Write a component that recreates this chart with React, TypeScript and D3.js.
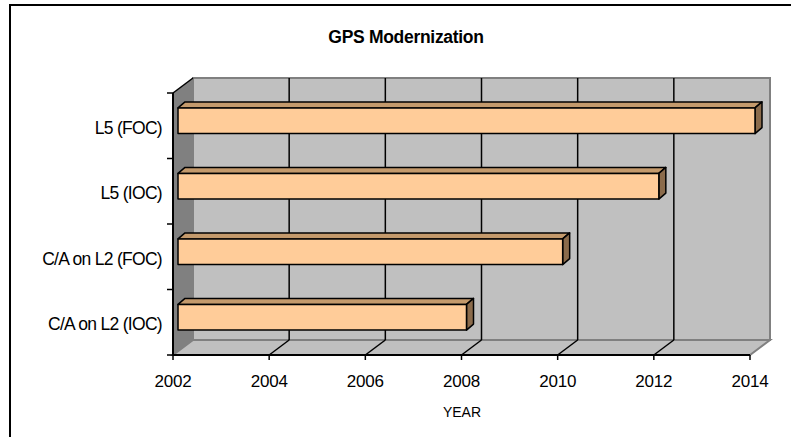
import React from "react";
import * as d3 from "d3";

const categories = ["L5 (FOC)", "L5 (IOC)", "C/A on L2 (FOC)", "C/A on L2 (IOC)"];
const startYear = 2002;
const endYears = [2014, 2012, 2010, 2008];
const xTicks = [2002, 2004, 2006, 2008, 2010, 2012, 2014];
const title = "GPS Modernization";
const xTitle = "YEAR";

export default function App() {
  const W = 791, H = 437;
  const x = d3.scaleLinear().domain([2002, 2014]).range([173, 750]);
  const y = d3.scaleBand<string>().domain(categories).range([93, 355]);
  const DX = 20, DY = -15; // wall depth
  const bw = y.bandwidth() / 2.55;
  const fDX = 5, fDY = -5; // bar front offset
  const bDX = 7, bDY = -6; // bar depth
  const x0 = x.range()[0], x1 = x.range()[1];
  const yTop = y.range()[0], yBot = y.range()[1];
  const font = "'Liberation Sans', Arial, sans-serif";

  return (
    <svg width={W} height={H} style={{ position: "absolute", left: 0, top: 0 }}>
      <rect x={0} y={0} width={W} height={H} fill="#fff" />
      <rect x={10} y={5} width={800} height={450} fill="#fff" stroke="#000" strokeWidth={2} />
      <text x={406} y={43} textAnchor="middle" fontFamily={font} fontWeight="bold" fontSize={17.5} letterSpacing={-0.3}>{title}</text>
      {/* back wall */}
      <rect x={x0 + DX} y={yTop + DY} width={x1 - x0} height={yBot - yTop} fill="#C0C0C0" stroke="#808080" strokeWidth={2} />
      {/* side wall */}
      <polygon points={`${x0},${yTop} ${x0 + DX},${yTop + DY} ${x0 + DX},${yBot + DY} ${x0},${yBot}`} fill="#808080" />
      {/* floor */}
      <polygon points={`${x0},${yBot} ${x0 + DX},${yBot + DY} ${x1 + DX},${yBot + DY} ${x1},${yBot}`} fill="#C0C0C0" stroke="#808080" strokeWidth={2} />
      {/* gridlines */}
      {xTicks.filter(t => t > 2002 && t < 2014).map(t => (
        <g key={t}>
          <line x1={x(t) + DX} x2={x(t) + DX} y1={yTop + DY} y2={yBot + DY} stroke="#000" strokeWidth={1.5} />
          <line x1={x(t)} x2={x(t) + DX} y1={yBot} y2={yBot + DY} stroke="#000" strokeWidth={1.5} />
        </g>
      ))}
      {/* top diagonal */}
      <line x1={x0} y1={yTop} x2={x0 + DX} y2={yTop + DY} stroke="#000" strokeWidth={1.5} />
      {/* axes */}
      <line x1={x0} x2={x0} y1={yTop} y2={yBot} stroke="#000" strokeWidth={2} />
      <line x1={x0} x2={x1} y1={yBot} y2={yBot} stroke="#000" strokeWidth={2} />
      {xTicks.map(t => (
        <g key={t}>
          <line x1={x(t)} x2={x(t)} y1={yBot} y2={yBot + 5} stroke="#000" strokeWidth={1.5} />
          <text x={x(t)} y={387} textAnchor="middle" fontFamily={font} fontSize={17} letterSpacing={-0.2}>{t}</text>
        </g>
      ))}
      {[yTop, ...categories.slice(1).map(c => y(c)!), yBot].map((v, i) => (
        <line key={i} x1={x0 - 6} x2={x0} y1={v} y2={v} stroke="#000" strokeWidth={1.5} />
      ))}
      {categories.map(c => (
        <text key={c} x={162} y={y(c)! + y.bandwidth() / 2 + 8} textAnchor="end" fontFamily={font} fontSize={17.5} letterSpacing={-0.7}>{c}</text>
      ))}
      <text x={462} y={417} textAnchor="middle" fontFamily={font} fontSize={14}>{xTitle}</text>
      {/* bars */}
      {categories.map((c, i) => {
        const cy = y(c)! + y.bandwidth() / 2 + fDY;
        const top = cy - bw / 2, bot = cy + bw / 2;
        const l = x(startYear) + fDX, r = x(endYears[i]) + fDX;
        return (
          <g key={c} stroke="#000" strokeWidth={1.5} strokeLinejoin="round">
            <polygon points={`${l},${top} ${l + bDX},${top + bDY} ${r + bDX},${top + bDY} ${r},${top}`} fill="#C49A6C" />
            <polygon points={`${r},${top} ${r + bDX},${top + bDY} ${r + bDX},${bot + bDY} ${r},${bot}`} fill="#8B6B4B" />
            <rect x={l} y={top} width={r - l} height={bot - top} fill="#FFCC99" />
          </g>
        );
      })}
    </svg>
  );
}
